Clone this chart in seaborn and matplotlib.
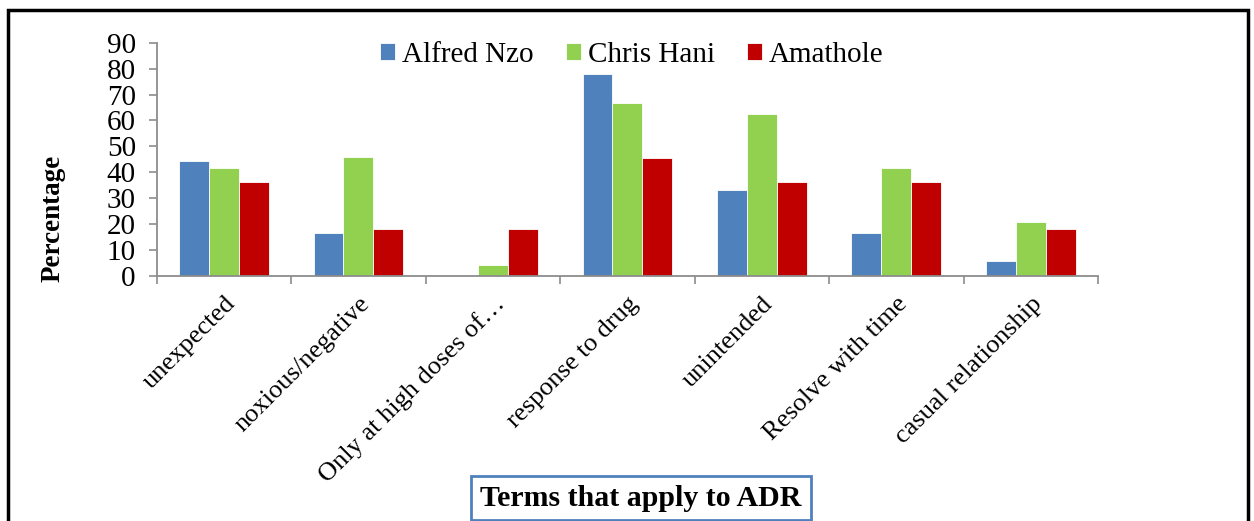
import matplotlib
matplotlib.use("Agg")
import matplotlib.pyplot as plt
from matplotlib.patches import Rectangle
from matplotlib.ticker import FixedLocator
import seaborn as sns
import pandas as pd

categories = ["unexpected", "noxious/negative", "Only at high doses of\u2026",
              "response to drug", "unintended", "Resolve with time",
              "casual relationship"]
districts = ["Alfred Nzo", "Chris Hani", "Amathole"]
alfred_nzo = [44.4, 16.7, 0.0, 77.8, 33.3, 16.7, 5.6]
chris_hani = [41.7, 45.8, 4.2, 66.7, 62.5, 41.7, 20.8]
amathole = [36.4, 18.2, 18.2, 45.5, 36.4, 36.4, 18.2]
yticks = [0, 10, 20, 30, 40, 50, 60, 70, 80, 90]

colors = ["#4F81BD", "#92D050", "#C00000"]

df = pd.DataFrame({
    "term": categories * 3,
    "district": sum([[d] * len(categories) for d in districts], []),
    "value": alfred_nzo + chris_hani + amathole,
})

sns.set_theme(style="white")
plt.rcParams["font.family"] = ["Liberation Serif", "DejaVu Serif"]
plt.rcParams["text.color"] = "black"

fig = plt.figure(figsize=(12.54, 5.21), dpi=100)
W, H = 1254, 521
ax = fig.add_axes([156.7 / W, 1 - 276 / H, (1098 - 156.7) / W, (276 - 42.7) / H])

sns.barplot(data=df, x="term", y="value", hue="district", order=categories,
            hue_order=districts, palette=colors, width=0.667, gap=0,
            saturation=1, edgecolor="white", linewidth=0.6, ax=ax)

ax.set_xlim(-0.5, len(categories) - 0.5)
ax.set_ylim(0, 90)
ax.set_yticks(yticks)
ax.set_yticklabels([str(t) for t in yticks], fontsize=21, color="black")

ax.set_xticks(range(len(categories)))
ax.set_xticklabels(categories, rotation=45, ha="right", rotation_mode="anchor",
                   fontsize=19, color="black")
ax.xaxis.set_minor_locator(FixedLocator([i - 0.5 for i in range(len(categories) + 1)]))
ax.tick_params(axis="x", which="major", length=0, pad=12)
ax.tick_params(axis="x", which="minor", length=6, width=1.2, color="#8C8C8C",
               direction="out", bottom=True)
ax.tick_params(axis="y", length=6, width=1.2, color="#8C8C8C", direction="out",
               left=True, pad=9)

for side in ["top", "right"]:
    ax.spines[side].set_visible(False)
for side in ["left", "bottom"]:
    ax.spines[side].set_color("#8C8C8C")
    ax.spines[side].set_linewidth(1.3)

ax.set_xlabel("")
ax.set_ylabel("")

leg = ax.legend(loc="upper center", bbox_to_anchor=(0.505, 1.115), ncol=3,
                frameon=False, fontsize=21, handlelength=0.5, handleheight=0.5,
                handletextpad=0.25, columnspacing=1.1)
for t in leg.get_texts():
    t.set_color("black")

fig.text(53 / W, 1 - 218 / H, "Percentage", rotation=90, fontsize=19.5,
         fontweight="bold", ha="center", va="center", color="black")

fig.text(641 / W, 1 - 498 / H, "Terms that apply to ADR", fontsize=21.5,
         fontweight="bold", ha="center", va="center", color="black",
         bbox=dict(boxstyle="square,pad=0.3", facecolor="white",
                   edgecolor="#4F81BD", linewidth=2))

# outer chart frame
fig.patches.append(Rectangle((8 / W, -0.1), (1248 - 8) / W, 1.1 - 10 / H,
                             transform=fig.transFigure, fill=False,
                             edgecolor="black", linewidth=2.5, zorder=10))

fig.savefig("out.png", dpi=100)
